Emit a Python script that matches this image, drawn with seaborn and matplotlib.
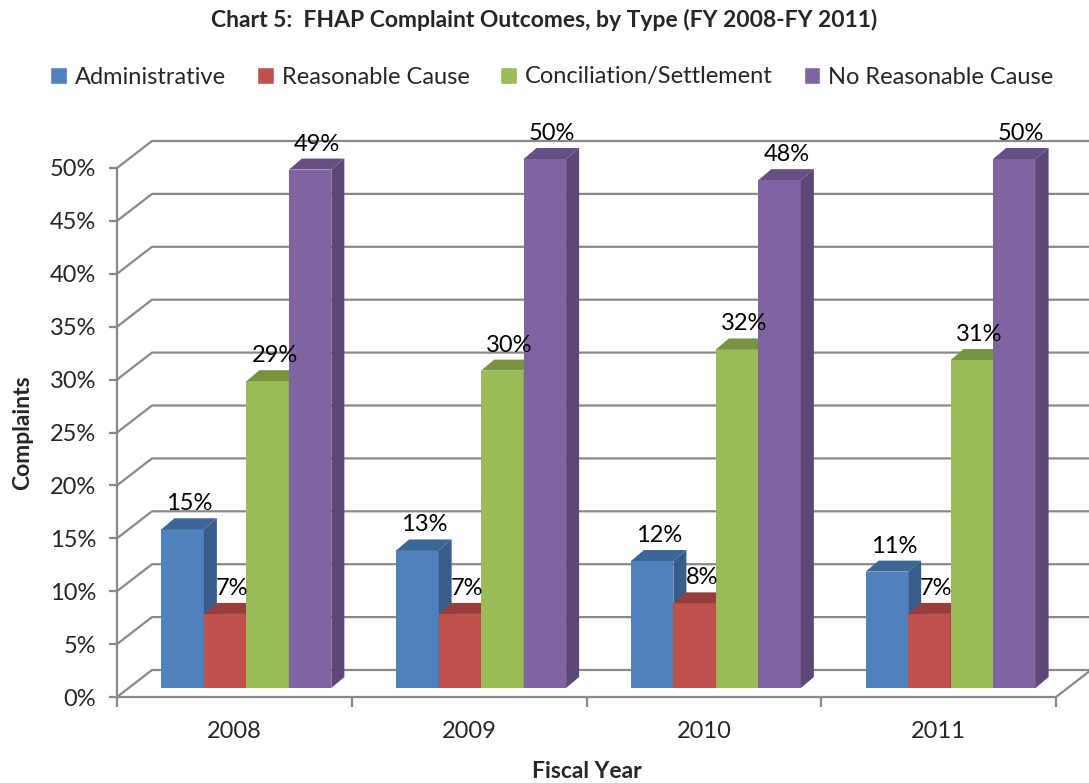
import matplotlib
matplotlib.use("Agg")
import matplotlib.pyplot as plt
from matplotlib.patches import Polygon
from matplotlib.lines import Line2D
from matplotlib.transforms import ScaledTranslation
import seaborn as sns
import pandas as pd

# ---- data ----
years = ["2008", "2009", "2010", "2011"]
outcomes = ["Administrative", "Reasonable Cause", "Conciliation/Settlement", "No Reasonable Cause"]
administrative = [15, 13, 12, 11]
reasonable_cause = [7, 7, 8, 7]
conciliation = [29, 30, 32, 31]
no_reasonable_cause = [49, 50, 48, 50]
yticks_pct = [0, 5, 10, 15, 20, 25, 30, 35, 40, 45, 50]

series = [administrative, reasonable_cause, conciliation, no_reasonable_cause]
rows = []
for name, vals in zip(outcomes, series):
    for yr, v in zip(years, vals):
        rows.append({"Fiscal Year": yr, "Outcome": name, "Share": v / 100})
df = pd.DataFrame(rows)

front = ["#4F81BD", "#C0504D", "#9BBB59", "#8064A2"]
top = ["#3C6696", "#973E3C", "#789440", "#654F83"]
side = ["#385D8A", "#8C3836", "#71893F", "#5C4776"]
grid_c = "#898989"

sns.set_theme(style="white")
plt.rcParams["font.family"] = ["Lato", "DejaVu Sans"]

W, H = 1089, 783
fig = plt.figure(figsize=(W / 100, H / 100), dpi=100)
ax_l, ax_r, ax_b, ax_t = 117 / W, 1056 / W, (H - 697) / H, (H - 168) / H
ax = fig.add_axes([ax_l, ax_b, ax_r - ax_l, ax_t - ax_b])

sns.barplot(data=df, x="Fiscal Year", y="Share", hue="Outcome", hue_order=outcomes,
            order=years, palette=front, width=0.724, saturation=1, legend=False,
            ax=ax, linewidth=0, errorbar=None)
ax.set_xlim(-0.5, 3.5)
ax.set_ylim(0, 0.5)

# px per data unit
px_x = (ax_r - ax_l) * W / 4.0
px_y = (ax_t - ax_b) * H / 0.5

# walls / gridlines (pseudo-3D back wall)
wdx, wdy = 35 / px_x, 27 / px_y
for t in yticks_pct:
    y = t / 100
    ax.add_line(Line2D([-0.5, -0.5 + wdx, 3.5 + wdx * 1.2], [y, y + wdy, y + wdy],
                       color=grid_c, lw=1.6, zorder=1, clip_on=False))
# floor right edge
ax.add_line(Line2D([3.5, 3.5 + wdx], [0, wdy], color=grid_c, lw=1.6, zorder=1, clip_on=False))

# bars: offset into depth and add top / side faces
bdx_px, bdy_px = 12, 9
off = ax.transData + ScaledTranslation(bdx_px / 100, bdy_px / 100, fig.dpi_scale_trans)
ddx, ddy = 13 / px_x, 11 / px_y
n = len(years)
for i, p in enumerate(ax.patches[: n * len(outcomes)]):
    k = i // n
    x0, w, h = p.get_x(), p.get_width(), p.get_height()
    p.set_transform(off)
    p.set_zorder(3 + k)
    p.set_clip_on(False)
    tp = Polygon([(x0, h), (x0 + w, h), (x0 + w + ddx, h + ddy), (x0 + ddx, h + ddy)],
                 closed=True, facecolor=top[k], edgecolor="none", transform=off,
                 zorder=3 + k, clip_on=False)
    sp = Polygon([(x0 + w, 0), (x0 + w + ddx, ddy), (x0 + w + ddx, h + ddy), (x0 + w, h)],
                 closed=True, facecolor=side[k], edgecolor="none", transform=off,
                 zorder=3 + k, clip_on=False)
    ax.add_patch(tp)
    ax.add_patch(sp)
    ax.annotate(f"{round(h * 100)}%", (x0 + w / 2, h), xycoords=off,
                xytext=(7 * 0.72, 15 * 0.72), textcoords="offset points",
                ha="center", va="bottom", fontsize=17, color="black", zorder=10)

# axes styling
for s in ["top", "right"]:
    ax.spines[s].set_visible(False)
for s in ["left", "bottom"]:
    ax.spines[s].set_color(grid_c)
    ax.spines[s].set_linewidth(1.6)
    ax.spines[s].set_zorder(2)

ax.set_yticks([t / 100 for t in yticks_pct])
ax.set_yticklabels([f"{t}%" for t in yticks_pct], fontsize=17)
ax.tick_params(axis="y", length=6, width=1.6, color=grid_c, pad=9, left=True)

ax.set_xticks([-0.5, 0.5, 1.5, 2.5, 3.5])
ax.set_xticklabels([])
ax.set_xticks(range(len(years)), minor=True)
ax.set_xticklabels(years, minor=True, fontsize=17)
ax.tick_params(axis="x", which="major", length=7, width=1.6, color=grid_c, bottom=True)
ax.tick_params(axis="x", which="minor", length=0, pad=17)

ax.set_xlabel("Fiscal Year", fontsize=16.5, fontweight="bold")
ax.xaxis.set_label_coords(0.5, (697 - 771) / 529)
ax.xaxis.label.set_va("center")
ax.set_ylabel("Complaints", fontsize=16.5, fontweight="bold", labelpad=12)

fig.text(0.5, 1 - 20 / H, "Chart 5:  FHAP Complaint Outcomes, by Type (FY 2008-FY 2011)",
         ha="center", va="center", fontsize=16.5, fontweight="bold")

handles = [plt.Rectangle((0, 0), 1, 1, facecolor=c) for c in front]
fig.legend(handles, outcomes, loc="center", bbox_to_anchor=(0.507, 1 - 77 / H), ncol=4,
           frameon=False, fontsize=17, handlelength=0.7, handleheight=0.7,
           handletextpad=0.35, columnspacing=1.3, borderaxespad=0)

fig.savefig("out.png", dpi=100)
